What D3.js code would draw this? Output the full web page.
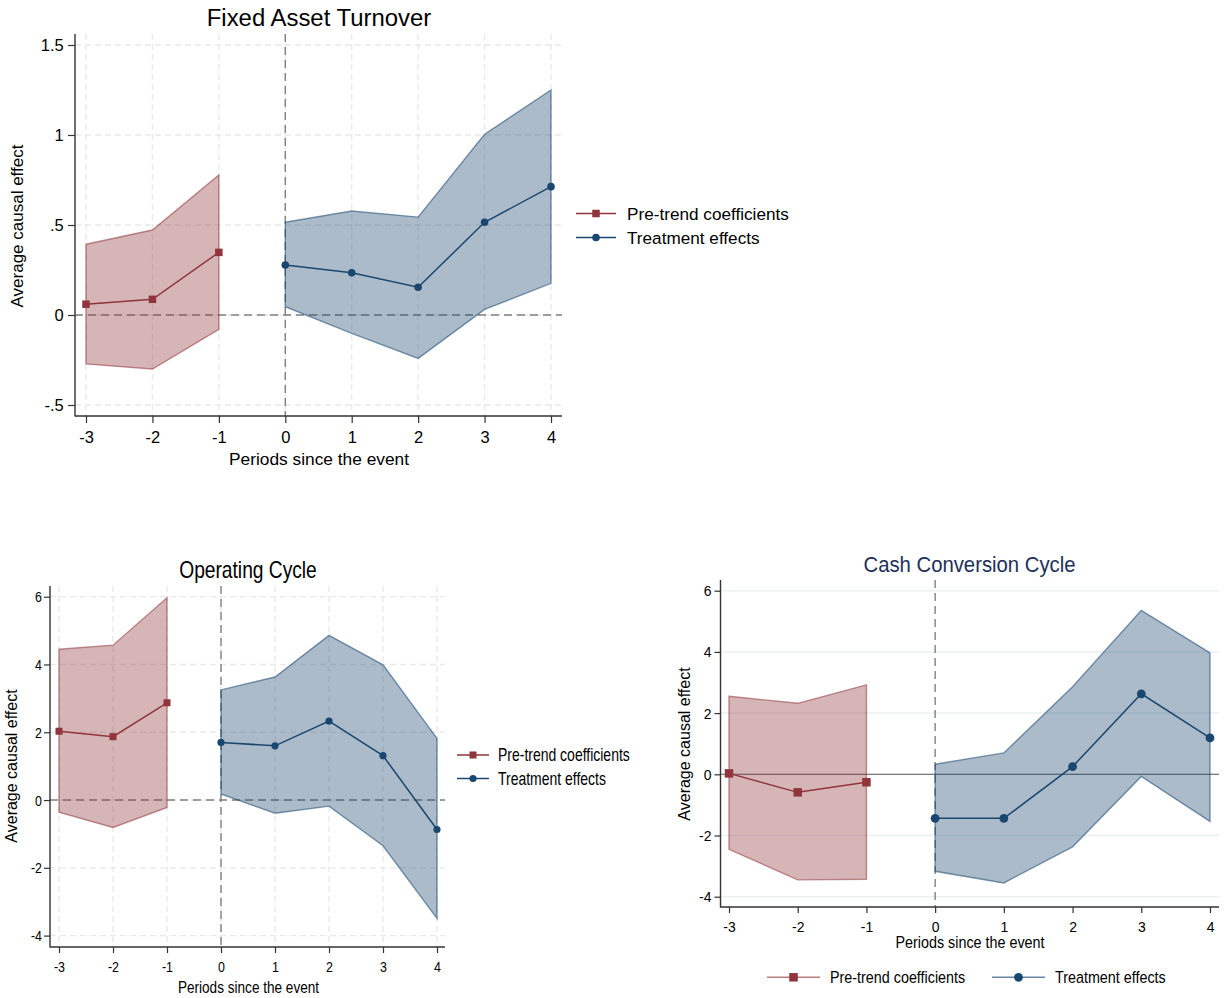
<html>
<head>
<script src="https://d3js.org/d3.v7.min.js"></script>
<style>
  body { margin: 0; background: #fff; }
  text { font-family: "Liberation Sans", Arial, Helvetica, sans-serif; fill: #000; }
</style>
</head>
<body>
<svg id="chart" width="1225" height="998"></svg>
<script>
// periods
var periodsPre = [-3, -2, -1];
var periodsPost = [0, 1, 2, 3, 4];
var xTicks = [-3, -2, -1, 0, 1, 2, 3, 4];

// Fixed Asset Turnover
var fatPreEst = [0.06, 0.087, 0.348];
var fatPreLo = [-0.272, -0.30, -0.08];
var fatPreHi = [0.393, 0.472, 0.778];
var fatPostEst = [0.278, 0.235, 0.154, 0.515, 0.713];
var fatPostLo = [0.046, -0.102, -0.241, 0.031, 0.176];
var fatPostHi = [0.515, 0.578, 0.544, 1.004, 1.25];
var fatYTicks = [-0.5, 0, 0.5, 1, 1.5];
var fatYLabels = ["-.5", "0", ".5", "1", "1.5"];

// Operating Cycle
var ocPreEst = [2.03, 1.87, 2.87];
var ocPreLo = [-0.36, -0.81, -0.22];
var ocPreHi = [4.45, 4.57, 5.97];
var ocPostEst = [1.70, 1.60, 2.33, 1.31, -0.87];
var ocPostLo = [0.18, -0.39, -0.18, -1.35, -3.49];
var ocPostHi = [3.25, 3.63, 4.86, 3.99, 1.82];

// Cash Conversion Cycle
var cccPreEst = [0.03, -0.59, -0.26];
var cccPreLo = [-2.45, -3.45, -3.43];
var cccPreHi = [2.55, 2.32, 2.92];
var cccPostEst = [-1.44, -1.44, 0.25, 2.63, 1.19];
var cccPostLo = [-3.17, -3.55, -2.37, -0.07, -1.54];
var cccPostHi = [0.33, 0.70, 2.86, 5.36, 3.97];

var cycYTicks = [-4, -2, 0, 2, 4, 6];
var cycYLabels = ["-4", "-2", "0", "2", "4", "6"];

var legendLabels = ["Pre-trend coefficients", "Treatment effects"];

var maroon = "#90353b", navy = "#1a476f";
var svg = d3.select("#chart");

function rows(xs, est, lo, hi) {
  return xs.map(function(x, i) { return {x: x, est: est[i], lo: lo[i], hi: hi[i]}; });
}

function label(g, x, y, str, size, anchor, sx, color) {
  return g.append("text")
    .attr("transform", "translate(" + x + "," + y + ") scale(" + sx + ",1)")
    .attr("text-anchor", anchor)
    .style("font-size", size + "px")
    .style("fill", color || "#000")
    .text(str);
}

function drawPanel(p) {
  var g = svg.append("g");
  var x = d3.scaleLinear().domain([-3, 4]).range(p.xr);
  var y = d3.scaleLinear().domain(p.ydom).range(p.yr);

  // grid
  if (p.dashGrid) {
    g.selectAll(".vg").data(xTicks).enter().append("line")
      .attr("x1", function(d) { return x(d); }).attr("x2", function(d) { return x(d); })
      .attr("y1", p.top).attr("y2", p.bottom)
      .attr("stroke", "#e9e9e9").attr("stroke-width", 1.3).attr("stroke-dasharray", "6,4");
    g.selectAll(".hg").data(p.yticks).enter().append("line")
      .attr("x1", p.x0).attr("x2", p.x1)
      .attr("y1", function(d) { return y(d); }).attr("y2", function(d) { return y(d); })
      .attr("stroke", "#e9e9e9").attr("stroke-width", 1.3).attr("stroke-dasharray", "6,4");
    g.append("line").attr("x1", p.x0).attr("x2", p.x1).attr("y1", y(0)).attr("y2", y(0))
      .attr("stroke", "#808080").attr("stroke-width", 1.4).attr("stroke-dasharray", "8,5");
  } else {
    g.selectAll(".hg").data(p.yticks).enter().append("line")
      .attr("x1", p.x0).attr("x2", p.x1)
      .attr("y1", function(d) { return y(d); }).attr("y2", function(d) { return y(d); })
      .attr("stroke", "#eaf1f3").attr("stroke-width", 1.5);
    g.append("line").attr("x1", p.x0).attr("x2", p.x1).attr("y1", y(0)).attr("y2", y(0))
      .attr("stroke", "#7a7a7a").attr("stroke-width", 1.3);
  }
  g.append("line").attr("x1", x(0)).attr("x2", x(0)).attr("y1", p.top).attr("y2", p.bottom)
    .attr("stroke", "#808080").attr("stroke-width", 1.4).attr("stroke-dasharray", "8,5");

  // bands
  var area = d3.area().x(function(d) { return x(d.x); })
    .y0(function(d) { return y(d.lo); }).y1(function(d) { return y(d.hi); });
  var line = d3.line().x(function(d) { return x(d.x); }).y(function(d) { return y(d.est); });

  [[p.pre, maroon, "rect"], [p.post, navy, "circle"]].forEach(function(s) {
    var data = s[0], col = s[1];
    g.append("path").datum(data).attr("d", area)
      .attr("fill", col).attr("fill-opacity", 0.37)
      .attr("stroke", col).attr("stroke-opacity", 0.55).attr("stroke-width", 1.4);
  });
  [[p.pre, maroon, "rect"], [p.post, navy, "circle"]].forEach(function(s) {
    var data = s[0], col = s[1];
    g.append("path").datum(data).attr("d", line)
      .attr("fill", "none").attr("stroke", col).attr("stroke-width", 1.5);
    if (s[2] === "rect") {
      g.selectAll(null).data(data).enter().append("rect")
        .attr("x", function(d) { return x(d.x) - p.sq / 2; })
        .attr("y", function(d) { return y(d.est) - p.sq / 2; })
        .attr("width", p.sq).attr("height", p.sq).attr("fill", col);
    } else {
      g.selectAll(null).data(data).enter().append("circle")
        .attr("cx", function(d) { return x(d.x); }).attr("cy", function(d) { return y(d.est); })
        .attr("r", p.cr).attr("fill", col);
    }
  });

  // axes
  var ya = g.append("g").attr("transform", "translate(" + p.x0 + ",0)")
    .call(d3.axisLeft(y).tickValues(p.yticks).tickFormat(function(d, i) { return p.ylabels[i]; })
      .tickSize(p.tick).tickPadding(p.ypad).tickSizeOuter(0));
  var xa = g.append("g").attr("transform", "translate(0," + p.bottom + ")")
    .call(d3.axisBottom(x).tickValues(xTicks).tickFormat(d3.format("d"))
      .tickSize(p.tick).tickPadding(p.xpad).tickSizeOuter(0));
  [ya, xa].forEach(function(a) {
    a.select(".domain").remove();
    a.selectAll(".tick line").attr("stroke", "#333").attr("stroke-width", 1.2);
    a.selectAll(".tick text").style("font-size", p.tickFont + "px")
      .style("font-family", "'Liberation Sans', Arial, sans-serif").attr("fill", "#000")
      .attr("transform", "scale(" + p.sx + ",1)");
  });
  xa.selectAll(".tick text").text(function(d) { return d < 0 ? "-" + Math.abs(d) : d; });
  g.append("line").attr("x1", p.x0).attr("x2", p.x0).attr("y1", p.top).attr("y2", p.bottom + 0.6)
    .attr("stroke", "#333").attr("stroke-width", 1.4);
  g.append("line").attr("x1", p.x0).attr("x2", p.x1).attr("y1", p.bottom).attr("y2", p.bottom)
    .attr("stroke", "#333").attr("stroke-width", 1.4);

  // texts
  label(g, p.title.x, p.title.y, p.title.text, p.title.size, "middle", p.title.sx, p.title.color);
  label(g, p.xt.x, p.xt.y, "Periods since the event", p.xt.size, "middle", p.xt.sx);
  g.append("text")
    .attr("transform", "translate(" + p.yt.x + "," + p.yt.y + ") rotate(-90)")
    .attr("text-anchor", "middle").style("font-size", p.yt.size + "px")
    .text("Average causal effect");

  // legend
  var L = p.legend;
  legendLabels.forEach(function(txt, i) {
    var col = i === 0 ? maroon : navy;
    var lx = L.x[i], ly = L.y[i];
    g.append("line").attr("x1", lx).attr("x2", lx + L.len).attr("y1", ly).attr("y2", ly)
      .attr("stroke", col).attr("stroke-width", 1.5).attr("stroke-opacity", L.alpha);
    if (i === 0) {
      g.append("rect").attr("x", lx + L.len / 2 - L.sq / 2).attr("y", ly - L.sq / 2)
        .attr("width", L.sq).attr("height", L.sq).attr("fill", col);
    } else {
      g.append("circle").attr("cx", lx + L.len / 2).attr("cy", ly).attr("r", L.cr).attr("fill", col);
    }
    label(g, lx + L.len + L.gap, ly + L.size * 0.36, txt, L.size, "start", L.sx);
  });
}

drawPanel({
  xr: [86, 551], ydom: [-0.5, 1.5], yr: [405, 45],
  x0: 75, x1: 562, top: 34, bottom: 416,
  yticks: fatYTicks, ylabels: fatYLabels, dashGrid: true,
  pre: rows(periodsPre, fatPreEst, fatPreLo, fatPreHi),
  post: rows(periodsPost, fatPostEst, fatPostLo, fatPostHi),
  sq: 7.5, cr: 3.8, tick: 7, ypad: 4, xpad: 9, tickFont: 16, sx: 1.03,
  title: {x: 319, y: 26, text: "Fixed Asset Turnover", size: 23, sx: 1.04},
  xt: {x: 319, y: 465, size: 16.5, sx: 1.05},
  yt: {x: 23, y: 226, size: 17},
  legend: {x: [576, 576], y: [213.5, 237.5], len: 40, gap: 11, sq: 7.5, cr: 3.8, size: 17, sx: 1.01, alpha: 1}
});

drawPanel({
  xr: [59, 437], ydom: [-4, 6], yr: [935.6, 596.7],
  x0: 50, x1: 445, top: 586, bottom: 947,
  yticks: cycYTicks, ylabels: cycYLabels, dashGrid: true,
  pre: rows(periodsPre, ocPreEst, ocPreLo, ocPreHi),
  post: rows(periodsPost, ocPostEst, ocPostLo, ocPostHi),
  sq: 7, cr: 3.6, tick: 6, ypad: 4, xpad: 8, tickFont: 15.5, sx: 0.8,
  title: {x: 248, y: 578, text: "Operating Cycle", size: 24, sx: 0.8},
  xt: {x: 248.5, y: 993, size: 17, sx: 0.8},
  yt: {x: 17, y: 766, size: 16},
  legend: {x: [457, 457], y: [755, 778.5], len: 32, gap: 9, sq: 7, cr: 3.6, size: 17.7, sx: 0.79, alpha: 1}
});

drawPanel({
  xr: [729, 1210], ydom: [-4, 6], yr: [896.7, 590.7],
  x0: 720.5, x1: 1219, top: 580, bottom: 907,
  yticks: cycYTicks, ylabels: cycYLabels, dashGrid: false,
  pre: rows(periodsPre, cccPreEst, cccPreLo, cccPreHi),
  post: rows(periodsPost, cccPostEst, cccPostLo, cccPostHi),
  sq: 8.5, cr: 4.4, tick: 6, ypad: 4, xpad: 8, tickFont: 15.5, sx: 0.9,
  title: {x: 969.5, y: 572, text: "Cash Conversion Cycle", size: 22.3, sx: 0.91, color: "#1e2f5c"},
  xt: {x: 970, y: 948, size: 16.3, sx: 0.88},
  yt: {x: 690, y: 744, size: 16},
  legend: {x: [767, 992], y: [977.3, 977.3], len: 53, gap: 10, sq: 8.5, cr: 4.4, size: 16.3, sx: 0.88, alpha: 0.65}
});
</script>
</body>
</html>
